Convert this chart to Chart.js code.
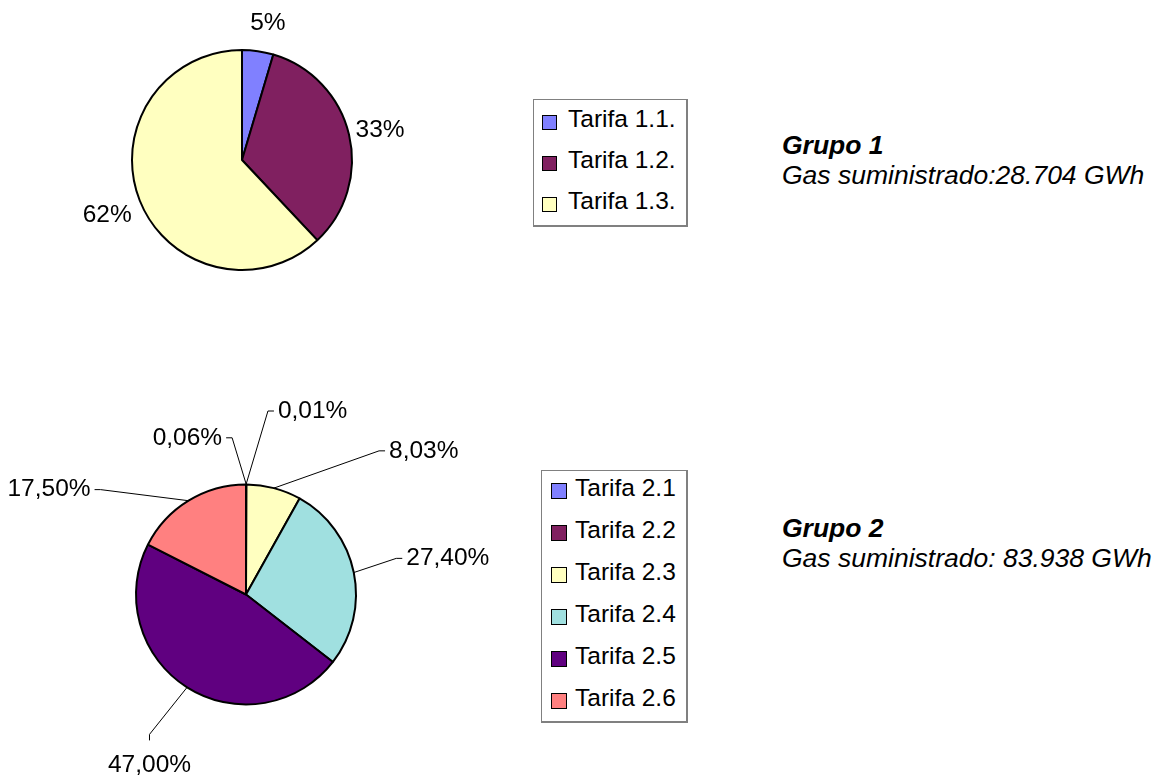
<!DOCTYPE html>
<html>
<head>
<meta charset="utf-8">
<script src="https://cdn.jsdelivr.net/npm/chart.js@4.4.0/dist/chart.umd.min.js"></script>
<style>
  html, body { margin: 0; padding: 0; background: #ffffff; }
  body { width: 1155px; height: 780px; position: relative; overflow: hidden;
         font-family: "Liberation Sans", Arial, Helvetica, sans-serif; color: #000; }
  canvas { position: absolute; }
  .legend { position: absolute; box-sizing: border-box; border: 1px solid #808080;
            border-right-width: 2px; border-bottom-width: 2px; background: #fff; }
  .row { position: absolute; height: 24px; line-height: 24px; font-size: 24.5px; white-space: nowrap; }
  .sw { position: absolute; box-sizing: border-box; border: 1px solid #000; }
  .title { position: absolute; font-size: 26.5px; line-height: 30px; white-space: nowrap; }
  .title b { font-weight: bold; font-style: italic; }
  .title i { font-style: italic; }
</style>
</head>
<body>
<canvas id="pie1" width="520" height="390" style="left:0;top:0"></canvas>
<canvas id="pie2" width="520" height="390" style="left:0;top:390px"></canvas>
<div id="legend1" class="legend"></div>
<div id="legend2" class="legend"></div>
<div id="title1" class="title"></div>
<div id="title2" class="title"></div>
<script>
// ---------- data ----------
const categories1 = ['Tarifa 1.1.', 'Tarifa 1.2.', 'Tarifa 1.3.'];
const values1 = [4.6, 33.4, 62.0];
const colors1 = ['#8080FF', '#802060', '#FFFFC0'];

const categories2 = ['Tarifa 2.1', 'Tarifa 2.2', 'Tarifa 2.3', 'Tarifa 2.4', 'Tarifa 2.5', 'Tarifa 2.6'];
const values2 = [0.01, 0.06, 8.03, 27.40, 47.00, 17.50];
const colors2 = ['#8080FF', '#802060', '#FFFFC0', '#A0E0E0', '#600080', '#FF8080'];

const groupTitle1 = 'Grupo 1';
const groupSub1 = 'Gas suministrado:28.704 GWh';
const groupTitle2 = 'Grupo 2';
const groupSub2 = 'Gas suministrado: 83.938 GWh';

// ---------- label plugin ----------
const DEG = Math.PI / 180;
const sliceLabels = {
  id: 'sliceLabels',
  afterDatasetsDraw(chart, args, opts) {
    const ctx = chart.ctx;
    const meta = chart.getDatasetMeta(0);
    const vals = chart.data.datasets[0].data;
    ctx.save();
    ctx.font = opts.font;
    ctx.fillStyle = '#000';
    ctx.strokeStyle = '#000';
    ctx.lineWidth = 1;
    ctx.textBaseline = 'middle';
    meta.data.forEach((arc, i) => {
      const p = arc.getProps(['x', 'y', 'startAngle', 'endAngle', 'outerRadius'], true);
      const mid = (p.startAngle + p.endAngle) / 2;
      const pl = opts.placement[i];
      const text = opts.format(vals[i]);
      const w = ctx.measureText(text).width;
      if (opts.leaders) {
        const sx = p.x + Math.cos(mid) * p.outerRadius;
        const sy = p.y + Math.sin(mid) * p.outerRadius;
        const a = mid + pl.da * DEG;
        const ex = p.x + Math.cos(a) * p.outerRadius * pl.rf;
        const ey = p.y + Math.sin(a) * p.outerRadius * pl.rf;
        ctx.beginPath();
        ctx.moveTo(sx, sy);
        ctx.lineTo(ex, ey);
        if (pl.below) {
          ctx.lineTo(ex, ey + 6);
          ctx.stroke();
          ctx.textAlign = 'center';
          ctx.fillText(text, ex, ey + 6 + 25);
        } else if (ex >= p.x) {
          ctx.lineTo(ex + 6, ey);
          ctx.stroke();
          ctx.textAlign = 'left';
          ctx.fillText(text, ex + 10, ey);
        } else {
          ctx.lineTo(ex - 6, ey);
          ctx.stroke();
          ctx.textAlign = 'right';
          ctx.fillText(text, ex - 10, ey);
        }
      } else {
        const a = mid + pl.da * DEG;
        const r = p.outerRadius + pl.extra;
        const ax = p.x + Math.cos(a) * r;
        const ay = p.y + Math.sin(a) * r;
        const cx = ax + Math.cos(a) * w / 2;
        const cy = ay + Math.sin(a) * 10;
        ctx.textAlign = 'center';
        ctx.fillText(text, cx, cy);
      }
    });
    ctx.restore();
  }
};

function pieConfig(values, colors, cats, padding, labelOpts) {
  return {
    type: 'pie',
    data: {
      labels: cats,
      datasets: [{
        data: values,
        backgroundColor: colors,
        borderColor: '#000000',
        borderWidth: 2,
        radius: 110
      }]
    },
    options: {
      responsive: false,
      animation: false,
      events: [],
      layout: { padding: padding },
      plugins: {
        legend: { display: false },
        tooltip: { enabled: false },
        title: { display: false },
        sliceLabels: labelOpts
      }
    },
    plugins: [sliceLabels]
  };
}

const labelFont = '24.5px "Liberation Sans", Arial, sans-serif';

new Chart(document.getElementById('pie1'), pieConfig(values1, colors1, categories1,
  { left: 0, top: 0, right: 36, bottom: 70 },
  {
    font: labelFont,
    leaders: false,
    format: v => Math.round(v) + '%',
    placement: [ { da: 1.9, extra: 19 }, { da: -0.3, extra: 7.5 }, { da: -2.8, extra: 13.5 } ]
  }));

new Chart(document.getElementById('pie2'), pieConfig(values2, colors2, categories2,
  { left: 0, top: 19, right: 28, bottom: 0 },
  {
    font: labelFont,
    leaders: true,
    format: v => v.toFixed(2).replace('.', ',') + '%',
    placement: [
      { da: 6.8, rf: 1.68 },
      { da: -5.2, rf: 1.43 },
      { da: 28.1, rf: 1.78 },
      { da: -2.0, rf: 1.405 },
      { da: 2.2, rf: 1.545, below: true },
      { da: -22.7, rf: 1.63 }
    ]
  }));

// ---------- legends (built from the same arrays) ----------
function buildLegend(id, cats, colors, box) {
  const el = document.getElementById(id);
  el.style.left = box.left + 'px';
  el.style.top = box.top + 'px';
  el.style.width = box.width + 'px';
  el.style.height = box.height + 'px';
  cats.forEach((c, i) => {
    const row = document.createElement('div');
    row.className = 'row';
    const center = box.first + i * box.step;
    row.style.top = (center - 12) + 'px';
    row.style.left = box.swLeft + 'px';
    const sw = document.createElement('span');
    sw.className = 'sw';
    sw.style.background = colors[i];
    sw.style.width = box.sw + 'px';
    sw.style.height = box.sw + 'px';
    sw.style.left = '0px';
    sw.style.top = (12 + box.swDy) + 'px';
    const tx = document.createElement('span');
    tx.textContent = c;
    tx.style.position = 'absolute';
    tx.style.left = box.txLeft + 'px';
    tx.style.top = '0px';
    row.appendChild(sw);
    row.appendChild(tx);
    el.appendChild(row);
  });
}
buildLegend('legend1', categories1, colors1,
  { left: 533, top: 99, width: 155, height: 128, first: 19, step: 41, swLeft: 8, sw: 15, swDy: -4, txLeft: 26 });
buildLegend('legend2', categories2, colors2,
  { left: 541, top: 470, width: 147, height: 253, first: 17, step: 42, swLeft: 9, sw: 16, swDy: -5, txLeft: 24 });

function buildTitle(id, t, s, left, top) {
  const el = document.getElementById(id);
  el.style.left = left + 'px';
  el.style.top = top + 'px';
  const b = document.createElement('b'); b.textContent = t;
  const i = document.createElement('i'); i.textContent = s;
  el.appendChild(b); el.appendChild(document.createElement('br')); el.appendChild(i);
}
buildTitle('title1', groupTitle1, groupSub1, 782, 130);
buildTitle('title2', groupTitle2, groupSub2, 782, 513);
</script>
</body>
</html>
